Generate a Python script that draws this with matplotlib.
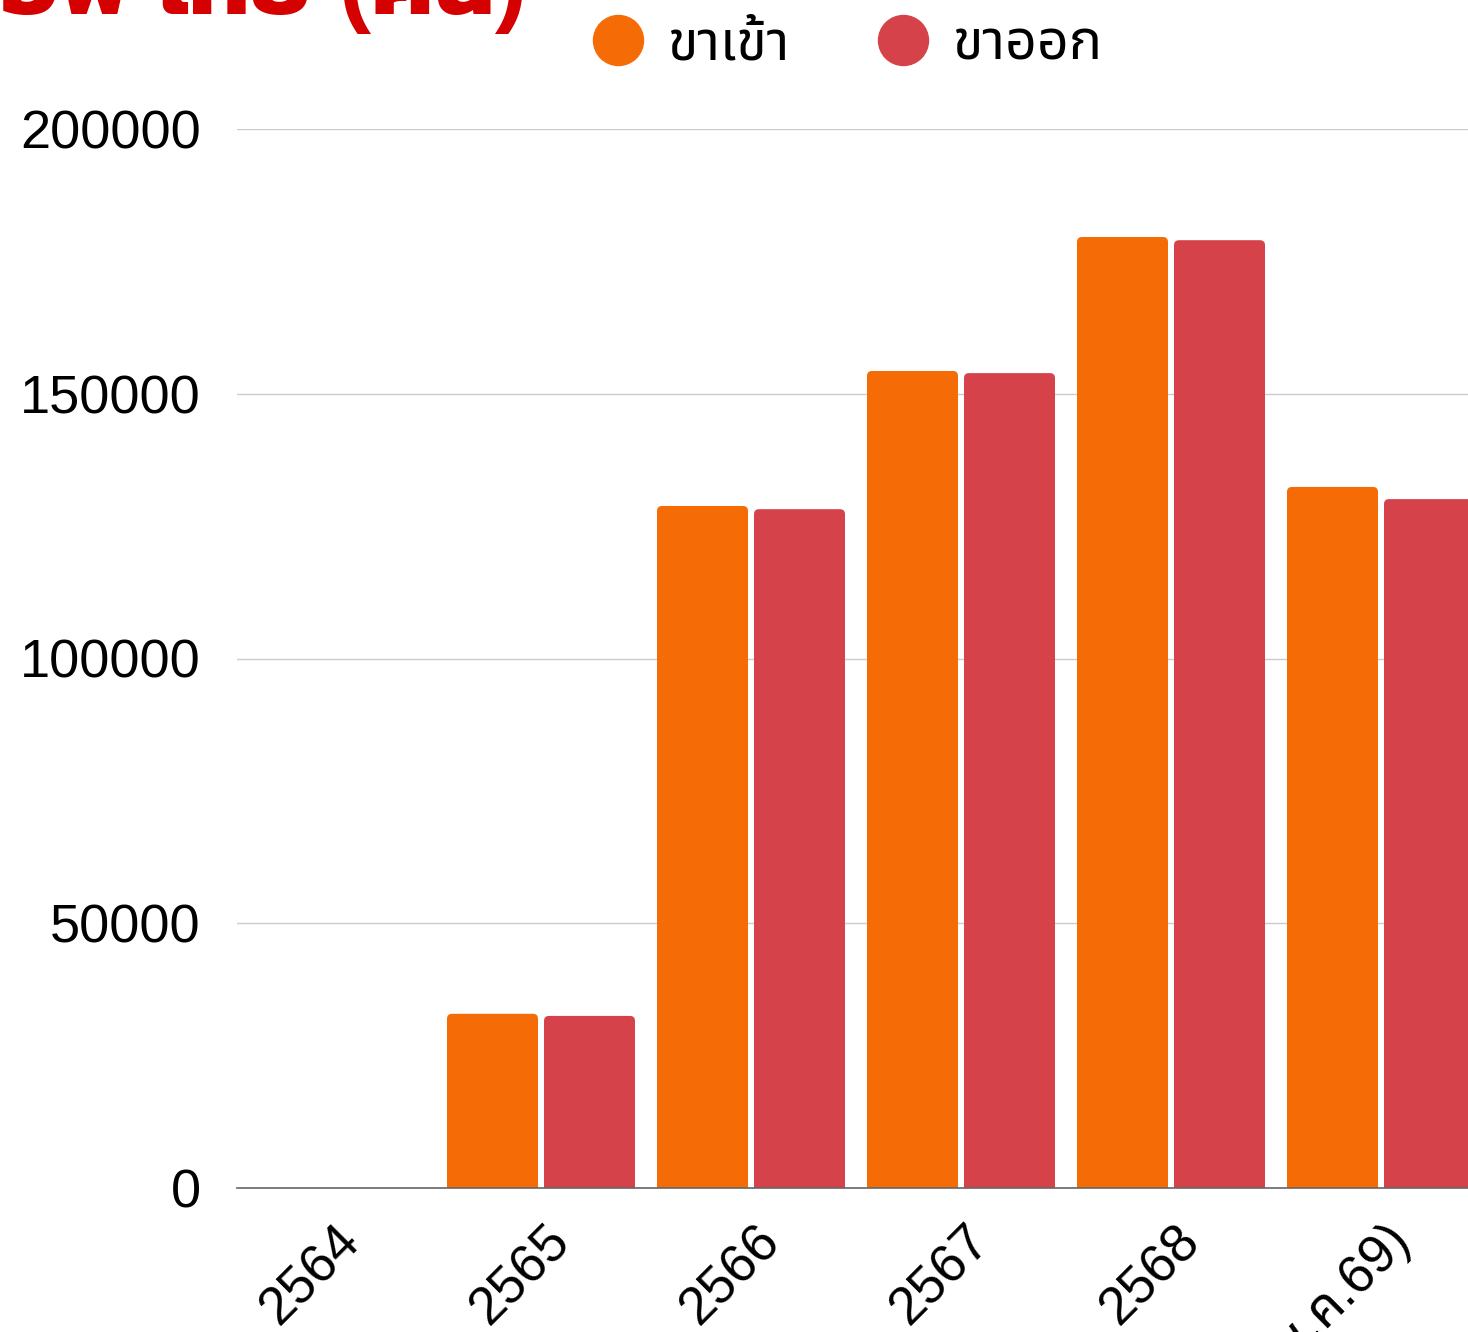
import numpy as np
import matplotlib
matplotlib.use("Agg")
import matplotlib.pyplot as plt
from matplotlib import font_manager
from matplotlib.ft2font import FT2Font
from matplotlib.lines import Line2D
from matplotlib.patches import FancyBboxPatch

# ---------------- data ----------------
categories = ["2564", "2565", "2566", "2567", "2568", "2569 (ม.ค.-พ.ค.69)"]
inbound = [0, 32900, 128800, 154300, 179600, 132400]    # ขาเข้า
outbound = [0, 32500, 128200, 153900, 179000, 130100]   # ขาออก
series_names = ["ขาเข้า", "ขาออก"]
yticks = [0, 50000, 100000, 150000, 200000]
title = "จำนวนผู้ใช้บริการวีไอพี ไทย (คน)"

# ---------------- fonts ----------------
def thai_fonts():
    names, bold = [], []
    for f in font_manager.fontManager.ttflist:
        try:
            cm = FT2Font(f.fname).get_charmap()
        except Exception:
            continue
        if 0x0E02 in cm and 0x0E49 in cm:
            if f.name not in names:
                names.append(f.name)
            w = f.weight if isinstance(f.weight, int) else (700 if "bold" in str(f.weight) else 400)
            if w >= 600 and f.name not in bold:
                bold.append(f.name)
    return names, bold

tf, tf_bold = thai_fonts()
pref = ["Noto Sans Thai", "Noto Sans Thai UI", "Kanit", "Prompt", "Sarabun",
        "IBM Plex Sans Thai", "Noto Sans Thai Looped"]
ordered = [p for p in pref if p in tf] + [n for n in tf if n not in pref]
family = ["Liberation Sans"] + ordered + ["DejaVu Sans"]
ordered_b = [p for p in pref if p in tf_bold] + [n for n in tf_bold if n not in pref]
title_family = ["Liberation Sans"] + ordered_b + ordered + ["DejaVu Sans"]
plt.rcParams["font.family"] = family

W, H = 1468, 1332
fig = plt.figure(figsize=(W / 100, H / 100), dpi=100)
ax = fig.add_axes([237 / W, (H - 1188) / H, (W - 237) / W, (1188 - 129) / H])

x = np.arange(len(categories))
orange = "#F56B05"
red = "#D6424A"
b1 = ax.bar(x + 45.5 / 210, inbound, width=91 / 210, color=orange, zorder=3)
b2 = ax.bar(x + 142.5 / 210, outbound, width=91 / 210, color=red, zorder=3)

ax.set_xlim(0, (W - 237) / 210)
ax.set_ylim(0, 200000)

# rounded top corners (radius ~5 px)
px_x = 1 / 210.0
px_y = 200000 / (1188 - 129)
r = 5
for cont in (b1, b2):
    for p in cont.patches:
        h = p.get_height()
        if h <= 0:
            p.set_visible(False)
            continue
        fb = FancyBboxPatch((p.get_x(), -r * px_y), p.get_width(), h + r * px_y,
                            boxstyle=f"round,pad=0,rounding_size={r * px_x}",
                            mutation_aspect=px_y / px_x,
                            facecolor=p.get_facecolor(), edgecolor="none",
                            zorder=3)
        ax.add_patch(fb)
        p.set_visible(False)

ax.set_yticks(yticks)
ax.set_yticklabels([str(v) for v in yticks], fontsize=39)
ax.yaxis.grid(True, color="#cccccc", lw=1, zorder=0)
ax.set_axisbelow(True)
for s in ["top", "right", "left"]:
    ax.spines[s].set_visible(False)
ax.spines["bottom"].set_color("#666666")
ax.spines["bottom"].set_linewidth(1.2)
ax.spines["bottom"].set_zorder(4)
ax.tick_params(axis="both", length=0)
ax.tick_params(axis="y", pad=26)

ax.set_xticks(x + 0.55)
ax.set_xticklabels(categories, fontsize=38, rotation=45, ha="right",
                   rotation_mode="anchor", va="center")
ax.tick_params(axis="x", pad=33)

handles = [Line2D([], [], marker="o", ls="", color=c, markersize=36)
           for c in (orange, red)]
fig.legend(handles, series_names, loc="center", bbox_to_anchor=(846 / W, 1 - 45 / H),
           ncol=2, frameon=False, fontsize=40, handletextpad=0.38,
           columnspacing=1.55, handlelength=1.0, borderpad=0, borderaxespad=0)

fig.text(527 / W, 1 - 14 / H, title, ha="right", va="baseline",
         color="#D50000", fontsize=70, fontweight="bold", family=title_family)

fig.savefig("out.png", dpi=100)
